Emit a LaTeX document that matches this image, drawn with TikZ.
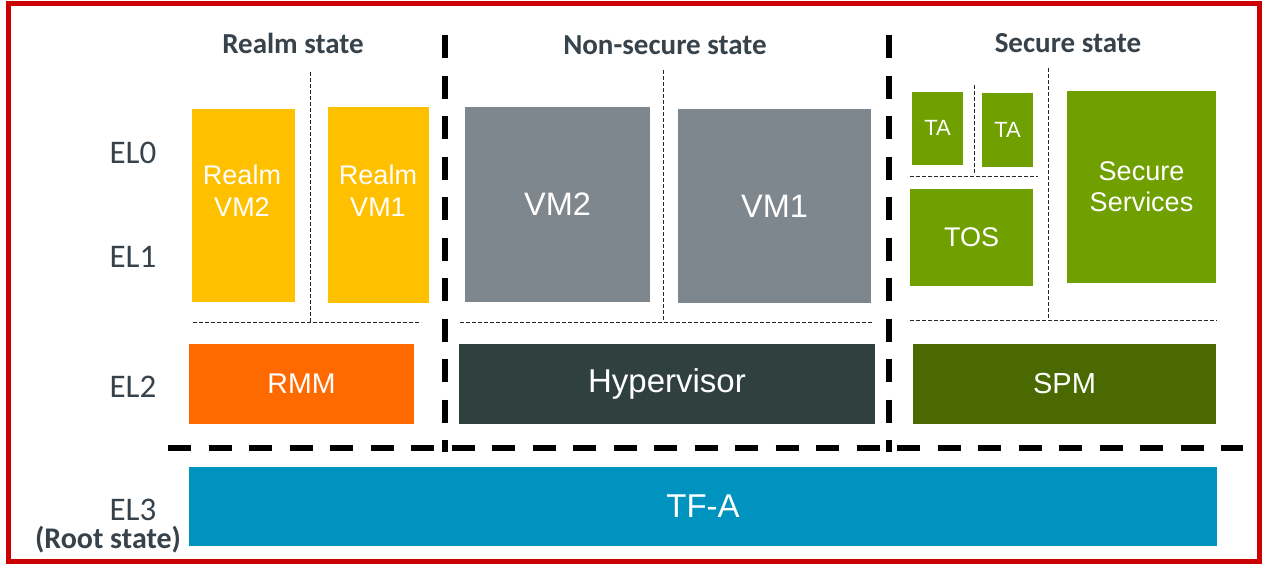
\documentclass[tikz,border=0pt]{standalone}
\usepackage{fontspec}
\setmainfont{Liberation Sans}
\newfontfamily\calib{Carlito}
\definecolor{cgold}{HTML}{FFC000}
\definecolor{cgrey}{HTML}{7F878E}
\definecolor{cgreen}{HTML}{70A000}
\definecolor{cdkgreen}{HTML}{4A6900}
\definecolor{cslate}{HTML}{2F403F}
\definecolor{corange}{HTML}{FF6A00}
\definecolor{cblue}{HTML}{0093BF}
\definecolor{clabel}{HTML}{37424A}
\definecolor{cred}{HTML}{CC0000}
\tikzset{
  blk/.style={draw=none, inner sep=0pt, text=white, align=center},
  blktxt/.style={inner sep=0pt, text=white, align=center, font=\fontsize{27}{32}\selectfont},
  hdr/.style={inner sep=0pt, text=clabel, font=\calib\bfseries\fontsize{29}{34}\selectfont},
  ellab/.style={inner sep=0pt, text=clabel, font=\calib\fontsize{33}{38}\selectfont},
  thin/.style={line width=1pt, dash pattern=on 3.5pt off 2.5pt, black!85},
  thick/.style={line width=5.5pt, dash pattern=on 23pt off 17.5pt, black}
}
\begin{document}
\begin{tikzpicture}[x=1pt,y=-1pt]
\useasboundingbox[fill=white] (0,0) rectangle (1262,570);
\draw[cred, line width=5pt] (8.5,3) rectangle (1259.5,561.5);

% headers
\node[hdr] (hrealm) at (293,43) {Realm state};
\node[hdr] (hns) at (665,45) {Non-secure state};
\node[hdr] (hsec) at (1068,43) {Secure state};

% EL labels
\node[ellab] (el0) at (133,153) {EL0};
\node[ellab] (el1) at (133,257) {EL1};
\node[ellab] (el2) at (133,387) {EL2};
\node[ellab] (el3) at (133,510) {EL3};
\node[inner sep=0pt, text=clabel, font=\calib\bfseries\fontsize{30}{34}\selectfont] (root) at (108,540) {(Root state)};

% dotted separators
\coordinate (rv1) at (310,72);  \coordinate (rv2) at (310,322);
\coordinate (rh1) at (193,322); \coordinate (rh2) at (421,322);
\coordinate (nv1) at (663,70);  \coordinate (nv2) at (663,322);
\coordinate (nh1) at (460,322); \coordinate (nh2) at (872,322);
\coordinate (sv1) at (1048,68); \coordinate (sv2) at (1048,320);
\coordinate (sh1) at (910,320); \coordinate (sh2) at (1217,320);
\coordinate (tv1) at (974,85);  \coordinate (tv2) at (974,173);
\coordinate (th1) at (910,176); \coordinate (th2) at (1038,176);
\draw[thin] (rv1) -- (rv2);
\draw[thin] (rh1) -- (rh2);
\draw[thin] (nv1) -- (nv2);
\draw[thin] (nh1) -- (nh2);
\draw[thin] (sv1) -- (sv2);
\draw[thin] (sh1) -- (sh2);
\draw[thin] (tv1) -- (tv2);
\draw[thin] (th1) -- (th2);

% realm boxes
\node[blk, fill=cgold, minimum width=103pt, minimum height=193pt] (rvm2) at (243.5,205.5) {};
\node[blktxt] (rvm2t) at (242,191) {Realm\\VM2};
\node[blk, fill=cgold, minimum width=101pt, minimum height=196pt] (rvm1) at (378.5,205) {};
\node[blktxt] (rvm1t) at (378,191) {Realm\\VM1};

% non-secure boxes
\node[blk, fill=cgrey, minimum width=185pt, minimum height=195pt, font=\fontsize{32.5}{36}\selectfont] (vm2) at (557.5,204.5) {VM2};
\node[blk, fill=cgrey, minimum width=193pt, minimum height=194pt, font=\fontsize{32.5}{36}\selectfont] (vm1) at (774.5,206) {VM1};

% secure boxes
\node[blk, fill=cgreen, minimum width=51pt, minimum height=73pt, font=\fontsize{22}{26}\selectfont] (ta1) at (937.5,128) {TA};
\node[blk, fill=cgreen, minimum width=51pt, minimum height=74pt, font=\fontsize{22}{26}\selectfont] (ta2) at (1007.5,129.5) {TA};
\node[blk, fill=cgreen, minimum width=123pt, minimum height=97pt, font=\fontsize{27}{32}\selectfont] (tos) at (971.5,237.5) {TOS};
\node[blk, fill=cgreen, minimum width=149pt, minimum height=192pt, font=\fontsize{27}{31}\selectfont] (ss) at (1141.5,187) {Secure\\Services};

% EL2 row
\node[blk, fill=corange, minimum width=225pt, minimum height=80pt, font=\fontsize{28.5}{32}\selectfont] (rmm) at (301.5,384) {RMM};
\node[blk, fill=cslate, minimum width=416pt, minimum height=80pt, font=\fontsize{33}{38}\selectfont] (hyp) at (667,384) {Hypervisor};
\node[blk, fill=cdkgreen, minimum width=303pt, minimum height=80pt, font=\fontsize{29}{33}\selectfont] (spm) at (1064.5,384) {SPM};

% EL3
\node[blk, fill=cblue, minimum width=1028pt, minimum height=79pt, font=\fontsize{33}{38}\selectfont] (tfa) at (703,506.5) {TF-A};

% thick dashed separators
\coordinate (dv1a) at (445,35);  \coordinate (dv1b) at (445,452);
\coordinate (dv2a) at (889,35);  \coordinate (dv2b) at (889,452);
\coordinate (dha) at (168,448);  \coordinate (dhb) at (1243,448);
\draw[thick] (dv1a) -- (dv1b);
\draw[thick] (dv2a) -- (dv2b);
\draw[thick] (dha) -- (dhb);
\end{tikzpicture}
\end{document}
